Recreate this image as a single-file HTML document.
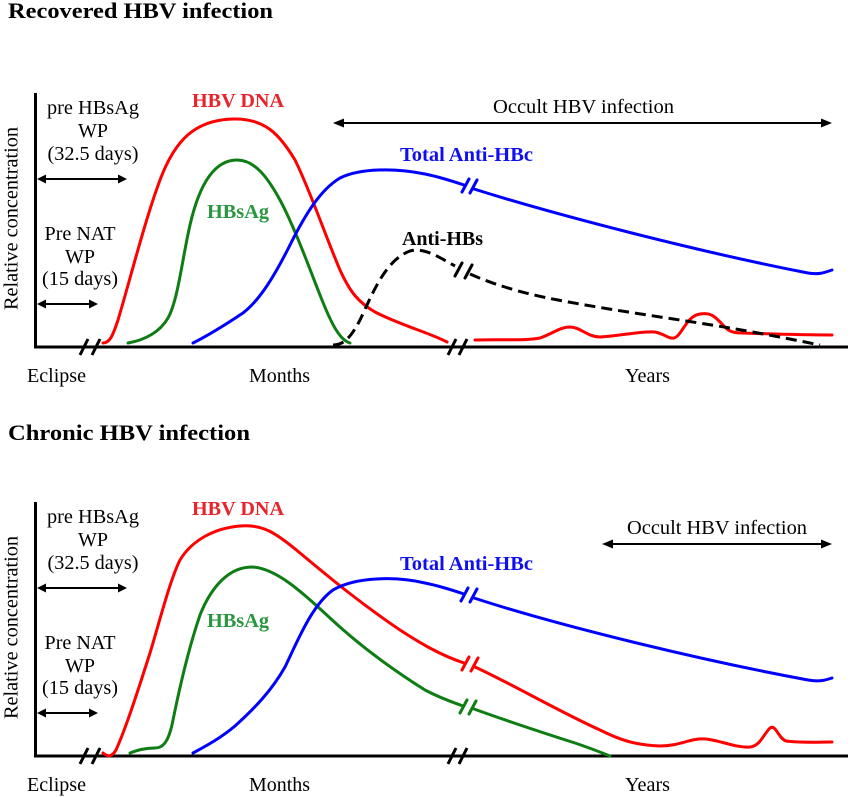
<!DOCTYPE html>
<html><head><meta charset="utf-8"><style>
html,body{margin:0;padding:0;background:#fff;}
svg{display:block;}
text{font-family:"Liberation Serif","DejaVu Serif",serif;}
</style></head><body>
<svg width="850" height="797" viewBox="0 0 850 797" xmlns="http://www.w3.org/2000/svg">
<rect width="850" height="797" fill="#fff"/>

<!-- ================= TOP: Recovered ================= -->
<g id="top">
<text x="8" y="18" font-size="22" font-weight="bold" textLength="265" lengthAdjust="spacingAndGlyphs">Recovered  HBV infection</text>

<line x1="35.5" y1="93" x2="35.5" y2="348" stroke="#000" stroke-width="3"/>
<line x1="34" y1="347" x2="848" y2="347" stroke="#000" stroke-width="3"/>
<line x1="80" y1="355" x2="88" y2="339" stroke="#000" stroke-width="3"/>
<line x1="92" y1="355" x2="100" y2="339" stroke="#000" stroke-width="3"/>
<line x1="448" y1="355" x2="456" y2="339" stroke="#000" stroke-width="3"/>
<line x1="459" y1="355" x2="467" y2="339" stroke="#000" stroke-width="3"/>

<text transform="translate(17.5,218.5) rotate(-90)" font-size="20" text-anchor="middle" textLength="183" lengthAdjust="spacingAndGlyphs">Relative concentration</text>

<text x="93" y="114" font-size="20" text-anchor="middle" textLength="92" lengthAdjust="spacingAndGlyphs">pre HBsAg</text>
<text x="93" y="137" font-size="20" text-anchor="middle">WP</text>
<text x="93" y="160" font-size="20" text-anchor="middle" textLength="91" lengthAdjust="spacingAndGlyphs">(32.5 days)</text>
<line x1="42" y1="179" x2="122" y2="179" stroke="#000" stroke-width="2"/>
<polygon points="37,179 46,174.5 46,183.5" fill="#000"/>
<polygon points="127,179 118,174.5 118,183.5" fill="#000"/>

<text x="80" y="240" font-size="20" text-anchor="middle" textLength="71" lengthAdjust="spacingAndGlyphs">Pre NAT</text>
<text x="80" y="263" font-size="20" text-anchor="middle">WP</text>
<text x="80" y="285" font-size="20" text-anchor="middle" textLength="76" lengthAdjust="spacingAndGlyphs">(15 days)</text>
<line x1="42" y1="304" x2="93" y2="304" stroke="#000" stroke-width="2"/>
<polygon points="37,304 46,299.5 46,308.5" fill="#000"/>
<polygon points="98,304 89,299.5 89,308.5" fill="#000"/>

<text x="27" y="382" font-size="20" textLength="59" lengthAdjust="spacingAndGlyphs">Eclipse</text>
<text x="249" y="382" font-size="20" textLength="61" lengthAdjust="spacingAndGlyphs">Months</text>
<text x="625" y="382" font-size="20" textLength="45" lengthAdjust="spacingAndGlyphs">Years</text>

<line x1="340" y1="123" x2="825" y2="123" stroke="#000" stroke-width="2"/>
<polygon points="333,123 344,118.5 344,127.5" fill="#000"/>
<polygon points="832,123 821,118.5 821,127.5" fill="#000"/>
<text x="493" y="113" font-size="20.5" textLength="181" lengthAdjust="spacingAndGlyphs">Occult HBV infection</text>

<text x="192" y="107" font-size="20" font-weight="bold" fill="#e8232b" textLength="92" lengthAdjust="spacingAndGlyphs">HBV DNA</text>
<text x="207" y="218" font-size="20" font-weight="bold" fill="#2a9640" textLength="62" lengthAdjust="spacingAndGlyphs">HBsAg</text>
<text x="400" y="161" font-size="20" font-weight="bold" fill="#1010ee" textLength="133" lengthAdjust="spacingAndGlyphs">Total Anti-HBc</text>
<text x="402" y="245" font-size="20" font-weight="bold" fill="#000" textLength="81" lengthAdjust="spacingAndGlyphs">Anti-HBs</text>

<g fill="none" stroke-width="3" stroke-linecap="round" stroke-linejoin="round">
<path stroke="#ff0000" d="M103,343 C110,343 113,335 118,320 C130,280 145,220 160,180 C175,140 195,120 233,119 C265,118 280,135 295,160 C310,190 325,235 340,270 C350,292 358,302 375,312 C400,325 430,333 447,342"/>
<path stroke="#ff0000" d="M475,340 C500,339 525,341 540,338 C552,334 560,327 570,327 C580,327 588,337 600,337 C620,336 640,331 655,332 C665,334 668,339 674,338 C682,336 686,316 700,314 C712,312 716,318 722,324 C728,331 732,333 742,333 C770,334 800,335 832,335"/>
<path stroke="#0e7d14" d="M128,343 C145,340 160,332 168,318 C178,300 182,260 190,225 C198,190 212,160 237,160 C255,160 268,178 280,200 C295,228 310,270 322,300 C332,325 340,340 350,343"/>
<path stroke="#0000ff" d="M193,343 C205,337 225,325 243,313 C260,300 275,275 290,245 C305,215 320,190 340,178 C360,168 395,168 425,174 C440,177 452,181 464,185"/>
<path stroke="#0000ff" d="M474,189 C560,216 700,252 808,273 C820,275 826,272 832,270"/>
<line x1="462" y1="192" x2="469" y2="179" stroke="#0000ff"/>
<line x1="470" y1="193" x2="477" y2="180" stroke="#0000ff"/>
<path stroke="#000" stroke-dasharray="11 6" stroke-linecap="butt" d="M333,345 C345,345 352,335 360,320 C372,295 385,260 410,251 C425,247 440,258 455,266"/>
<path stroke="#000" stroke-dasharray="11 6" stroke-linecap="butt" d="M470,274 C490,283 520,293 558,300 C620,312 700,322 758,333 C785,338 805,342 820,345"/>
<line x1="455" y1="276" x2="462" y2="263" stroke="#000"/>
<line x1="465" y1="278" x2="472" y2="265" stroke="#000"/>
</g>
</g>

<!-- ================= BOTTOM: Chronic ================= -->
<g id="bottom">
<text x="8" y="440" font-size="22" font-weight="bold" textLength="242" lengthAdjust="spacingAndGlyphs">Chronic  HBV infection</text>

<line x1="35.5" y1="502" x2="35.5" y2="757" stroke="#000" stroke-width="3"/>
<line x1="34" y1="756" x2="848" y2="756" stroke="#000" stroke-width="3"/>
<line x1="80" y1="764" x2="88" y2="748" stroke="#000" stroke-width="3"/>
<line x1="92" y1="764" x2="100" y2="748" stroke="#000" stroke-width="3"/>
<line x1="448" y1="764" x2="456" y2="748" stroke="#000" stroke-width="3"/>
<line x1="459" y1="764" x2="467" y2="748" stroke="#000" stroke-width="3"/>

<text transform="translate(17.5,627.5) rotate(-90)" font-size="20" text-anchor="middle" textLength="183" lengthAdjust="spacingAndGlyphs">Relative concentration</text>

<text x="93" y="523" font-size="20" text-anchor="middle" textLength="92" lengthAdjust="spacingAndGlyphs">pre HBsAg</text>
<text x="93" y="546" font-size="20" text-anchor="middle">WP</text>
<text x="93" y="569" font-size="20" text-anchor="middle" textLength="91" lengthAdjust="spacingAndGlyphs">(32.5 days)</text>
<line x1="42" y1="588" x2="122" y2="588" stroke="#000" stroke-width="2"/>
<polygon points="37,588 46,583.5 46,592.5" fill="#000"/>
<polygon points="127,588 118,583.5 118,592.5" fill="#000"/>

<text x="80" y="649" font-size="20" text-anchor="middle" textLength="71" lengthAdjust="spacingAndGlyphs">Pre NAT</text>
<text x="80" y="672" font-size="20" text-anchor="middle">WP</text>
<text x="80" y="694" font-size="20" text-anchor="middle" textLength="76" lengthAdjust="spacingAndGlyphs">(15 days)</text>
<line x1="42" y1="713" x2="93" y2="713" stroke="#000" stroke-width="2"/>
<polygon points="37,713 46,708.5 46,717.5" fill="#000"/>
<polygon points="98,713 89,708.5 89,717.5" fill="#000"/>

<text x="27" y="791" font-size="20" textLength="59" lengthAdjust="spacingAndGlyphs">Eclipse</text>
<text x="249" y="791" font-size="20" textLength="61" lengthAdjust="spacingAndGlyphs">Months</text>
<text x="625" y="791" font-size="20" textLength="45" lengthAdjust="spacingAndGlyphs">Years</text>

<line x1="609" y1="544" x2="825" y2="544" stroke="#000" stroke-width="2"/>
<polygon points="602,544 613,539.5 613,548.5" fill="#000"/>
<polygon points="832,544 821,539.5 821,548.5" fill="#000"/>
<text x="627" y="534" font-size="20.5" textLength="180" lengthAdjust="spacingAndGlyphs">Occult HBV infection</text>

<text x="192" y="515" font-size="20" font-weight="bold" fill="#e8232b" textLength="92" lengthAdjust="spacingAndGlyphs">HBV DNA</text>
<text x="207" y="627" font-size="20" font-weight="bold" fill="#2a9640" textLength="62" lengthAdjust="spacingAndGlyphs">HBsAg</text>
<text x="400" y="570" font-size="20" font-weight="bold" fill="#1010ee" textLength="133" lengthAdjust="spacingAndGlyphs">Total Anti-HBc</text>

<g fill="none" stroke-width="3" stroke-linecap="round" stroke-linejoin="round">
<path stroke="#ff0000" d="M103,753 C108,757 112,757 116,750 C125,730 135,700 150,653 C160,620 170,580 180,560 C192,540 215,528 240,526 C262,524 275,532 300,553 C330,578 360,603 400,630 C420,643 440,655 464,663"/>
<path stroke="#ff0000" d="M475,667 C510,683 560,712 600,730 C620,740 635,745 660,746 C680,746 690,738 705,739 C720,740 735,748 750,747 C760,746 763,735 770,728 C776,724 778,738 786,741 C800,743 820,742 832,742"/>
<line x1="462" y1="670" x2="469" y2="657" stroke="#ff0000"/>
<line x1="471" y1="671" x2="478" y2="658" stroke="#ff0000"/>
<path stroke="#0e7d14" d="M130,753 C138,750 145,748 155,748 C163,748 168,742 172,725 C178,695 188,650 200,615 C212,585 230,567 252,567 C275,568 300,590 330,618 C360,646 390,668 425,690 C440,698 452,702 463,706"/>
<path stroke="#0e7d14" d="M474,709 C510,722 550,735 575,743 C590,748 600,752 610,756"/>
<line x1="460" y1="713" x2="467" y2="700" stroke="#0e7d14"/>
<line x1="469" y1="714" x2="476" y2="701" stroke="#0e7d14"/>
<path stroke="#0000ff" d="M193,753 C208,745 222,737 235,726 C255,708 272,690 285,667 C298,640 312,605 333,590 C355,577 395,576 425,583 C440,586 452,590 464,594"/>
<path stroke="#0000ff" d="M474,598 C560,626 700,660 808,680 C820,682 826,680 832,678"/>
<line x1="461" y1="601" x2="468" y2="588" stroke="#0000ff"/>
<line x1="470" y1="602" x2="477" y2="589" stroke="#0000ff"/>
</g>
</g>
</svg>
</body></html>
